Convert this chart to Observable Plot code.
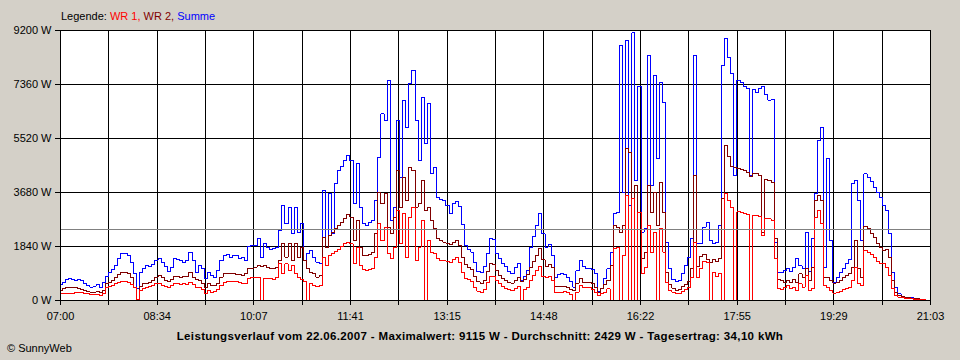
<!DOCTYPE html>
<html>
<head>
<meta charset="utf-8">
<script src="https://cdn.jsdelivr.net/npm/d3@7"></script>
<script src="https://cdn.jsdelivr.net/npm/@observablehq/plot@0.6"></script>
<style>
html, body { margin: 0; padding: 0; background: #d4d0c8; }
#wrap { position: relative; width: 960px; height: 360px; background: #d4d0c8; overflow: hidden;
  font-family: "Liberation Sans", Arial, sans-serif; font-size: 11px; color: #000; }
#chart { position: absolute; left: 0; top: 0; }
#chart svg path, #chart svg line { shape-rendering: crispEdges; }
#legend { position: absolute; left: 61px; top: 10px; white-space: nowrap; }
#title { position: absolute; left: 0; width: 960px; top: 330px; text-align: center; font-weight: bold; font-size: 11.5px; letter-spacing: 0.35px; white-space: nowrap; }
#copy { position: absolute; left: 7px; top: 342px; white-space: nowrap; }
</style>
</head>
<body>
<div id="wrap">
  <div id="chart"></div>
  <div id="legend"></div>
  <div id="title"></div>
  <div id="copy"></div>
</div>
<script>
// ---- data (W), one sample every 3 minutes from 07:00 to 21:03 ----
const startLabel = "07:00";
const stepMinutes = 3;
const xTickLabels = ["07:00","08:34","10:07","11:41","13:15","14:48","16:22","17:55","19:29","21:03"];
const yTicks = [0, 1840, 3680, 5520, 7360, 9200];
const average = 2429;
const seriesNames = ["WR 1", "WR 2", "Summe"];
const seriesColors = ["#ff0000", "#800000", "#0000ff"];
const titleText = "Leistungsverlauf vom 22.06.2007 - Maximalwert: 9115 W - Durchschnitt: 2429 W - Tagesertrag: 34,10 kWh";
const copyText = "© SunnyWeb";

const summe = [
  545, 625, 705, 740, 705, 680, 727, 680, 590, 510,
  455, 490, 535, 455, 625, 820, 965, 1045, 1190, 1420,
  1610, 1610, 1535, 1305, 910, 400, 965, 1080, 1190, 1160,
  1225, 1365, 1420, 1305, 1160, 990, 1135, 1420, 1400, 1365,
  1305, 1365, 1650, 1365, 965, 1190, 1080, 740, 965, 850,
  770, 1020, 1365, 1535, 1570, 1475, 1535, 1535, 1420, 1475,
  1365, 1840, 1875, 1875, 2100, 1475, 1930, 1820, 1725, 1760,
  1795, 2385, 3240, 2610, 3180, 2270, 3180, 2330, 2610, 1365,
  1590, 1705, 1475, 1305, 1250, 3750, 1820, 3635, 2270, 3975,
  4430, 4565, 4770, 4940, 4770, 3295, 4660, 3180, 2610, 2555,
  2670, 2725, 3410, 4885, 6360, 6135, 7500, 2725, 3180, 6135,
  4200, 6815, 5900, 7385, 7840, 6135, 4770, 6930, 5340, 6700,
  4315, 4545, 3520, 3430, 3410, 3240, 2975, 3295, 3385, 3205,
  2600, 1860, 1750, 1650, 1280, 990, 965, 1160, 1610, 2100,
  2070, 1590, 1420, 1270, 1160, 1000, 910, 1135, 1270, 680,
  820, 1020, 1820, 2180, 2555, 2955, 2270, 1820, 1910, 1535,
  770, 885, 910, 885, 795, 660, 455, 1020, 1365, 1160,
  1080, 1080, 1045, 910, 300, 400, 740, 1080, 1650, 2955,
  3010, 8690, 3690, 8860, 3240, 9115, 4100, 7300, 2330, 2440,
  8350, 3920, 7670, 4830, 7440, 6760, 1990, 1080, 715, 650,
  680, 910, 1190, 1475, 2100, 8350, 1930, 1930, 2500, 2650,
  2045, 1930, 1965, 2555, 8000, 8920, 8290, 7725, 4260, 7500,
  7420, 7295, 7235, 4260, 7190, 7100, 7215, 7295, 7010, 6830,
  6850, 1990, 965, 965, 1020, 1100, 990, 1135, 1420, 1190,
  1100, 2330, 1000, 2100, 3640, 5450, 5900, 1135, 4830, 2045,
  625, 795, 965, 1080, 1250, 1385, 3975, 4090, 3410, 2045,
  4315, 4200, 4045, 3860, 3680, 3500, 3240, 3070, 2270, 965,
  455, 230, 135, 100, 90, 90, 80, 57, 34, 23, 11, 0
];

const wr2 = [
  340, 400, 430, 455, 430, 455, 410, 375, 340, 305,
  285, 285, 320, 275, 340, 570, 625, 670, 770, 885,
  955, 965, 910, 795, 455, 25, 475, 570, 590, 625,
  680, 795, 850, 770, 680, 635, 705, 820, 820, 795,
  820, 820, 965, 795, 725, 680, 590, 430, 570, 510,
  520, 590, 795, 910, 930, 910, 930, 885, 885, 850,
  910, 1100, 1100, 1135, 1190, 1160, 1180, 1115, 1080, 1080,
  1115, 1365, 1930, 1475, 1930, 1365, 1930, 1475, 1820, 1365,
  1080, 965, 910, 795, 850, 2160, 1820, 2215, 2330, 2440,
  2555, 2670, 2785, 2930, 2840, 2045, 2725, 1820, 1535, 1535,
  1570, 1650, 2270, 3690, 3295, 3635, 2500, 2270, 2840, 4430,
  3180, 4200, 3410, 4545, 4430, 3180, 3295, 4090, 3070, 3180,
  2725, 2440, 2100, 2045, 1990, 1955, 1910, 1990, 2045, 1875,
  1450, 1210, 1110, 1050, 820, 635, 570, 680, 1000, 1250,
  1225, 1020, 865, 760, 690, 625, 590, 680, 785, 660,
  705, 875, 1115, 1340, 1535, 1760, 1385, 1170, 1215, 1115,
  475, 475, 475, 475, 430, 365, 340, 590, 740, 625,
  625, 625, 590, 455, 285, 400, 535, 680, 1190, 2555,
  2500, 2330, 2555, 5170, 5055, 3465, 3920, 3010, 1420, 1650,
  3920, 3010, 3690, 2555, 4030, 3010, 965, 535, 420, 340,
  375, 475, 535, 650, 1080, 4260, 1170, 1510, 1580, 1400,
  1305, 1400, 1330, 1420, 3465, 5280, 4920, 4570, 4545, 4490,
  4465, 4430, 4375, 4240, 4315, 4315, 4260, 2330, 4125, 4090,
  4030, 2100, 715, 680, 600, 680, 625, 715, 600, 910,
  795, 1080, 680, 1135, 3410, 3580, 3410, 795, 770, 680,
  590, 625, 680, 770, 850, 910, 1135, 2045, 1080, 795,
  2520, 2455, 2270, 2160, 1955, 1820, 1705, 1725, 1475, 680,
  285, 170, 135, 115, 90, 80, 70, 57, 34, 23, 11, 0
];

const wr1 = [
  227, 240, 250, 250, 250, 260, 270, 260, 250, 227,
  205, 195, 205, 170, 227, 430, 490, 520, 570, 615,
  650, 660, 625, 545, 430, 25, 340, 400, 455, 475,
  520, 580, 590, 520, 475, 455, 500, 570, 570, 545,
  570, 545, 625, 535, 455, 430, 375, 250, 340, 285,
  320, 365, 510, 625, 660, 650, 660, 635, 625, 590,
  570, 760, 795, 770, 795, 0, 760, 740, 740, 715,
  795, 1250, 910, 1250, 1020, 1190, 910, 795, 705, 660,
  0, 570, 510, 475, 500, 1475, 1190, 1535, 1610, 1680,
  1750, 1840, 1930, 1990, 1930, 1250, 1820, 1190, 1045, 1020,
  1045, 1080, 1475, 2610, 2045, 2500, 1590, 1420, 1820, 3070,
  1930, 2955, 1475, 2840, 3180, 1365, 1820, 2725, 0, 2045,
  1650, 1590, 1420, 1365, 1365, 1340, 1305, 1400, 1475, 1305,
  965, 755, 700, 640, 455, 320, 275, 365, 625, 830,
  820, 680, 590, 490, 420, 365, 340, 400, 465, 0,
  375, 455, 680, 850, 1020, 1160, 820, 785, 805, 680,
  285, 275, 285, 305, 275, 205, 0, 285, 500, 455,
  455, 455, 385, 285, 170, 230, 285, 400, 0, 1760,
  1820, 0, 1535, 3580, 0, 3465, 0, 3010, 910, 1135,
  2555, 1650, 2330, 0, 2440, 1650, 625, 340, 285, 230,
  250, 320, 375, 455, 795, 1990, 795, 1080, 1330, 1305,
  0, 965, 830, 910, 0, 3635, 3410, 3180, 0, 3030,
  2990, 2955, 2920, 0, 2895, 2895, 2875, 2215, 2805, 2785,
  2725, 1420, 400, 375, 430, 510, 400, 455, 340, 570,
  455, 850, 340, 400, 2840, 3070, 2610, 510, 455, 340,
  250, 270, 320, 365, 400, 455, 680, 1135, 570, 510,
  1705, 1650, 1570, 1475, 1320, 1270, 1250, 1135, 850, 400,
  170, 115, 90, 80, 70, 57, 45, 34, 23, 23, 11, 0
];

// ---- build ----
const toMin = s => { const [h, m] = s.split(":").map(Number); return h * 60 + m; };
const t0 = toMin(startLabel);
const span = toMin(xTickLabels[xTickLabels.length - 1]) - t0; // 843 minutes
const nTicks = (xTickLabels.length - 1) * 2;                      // labelled + intermediate
const xTicks = d3.range(nTicks + 1).map(k => k * span / nTicks);
const xFmt = d => { const k = Math.round(d / (span / nTicks)); return k % 2 === 0 ? xTickLabels[k / 2] : ""; };
const rows = arr => arr.map((v, i) => ({t: i * stepMinutes, v}));

const chart = Plot.plot({
  width: 960,
  height: 325,
  marginLeft: 60,
  marginRight: 30,
  marginTop: 30,
  marginBottom: 25,
  style: {background: "transparent", fontFamily: "'Liberation Sans', Arial, sans-serif", fontSize: "11px", color: "#000", overflow: "visible"},
  x: {domain: [0, span]},
  y: {domain: [0, yTicks[yTicks.length - 1]]},
  marks: [
    Plot.frame({fill: "white", stroke: null}),
    Plot.gridX(xTicks, {stroke: "#000", strokeOpacity: 1}),
    Plot.gridY(yTicks, {stroke: "#000", strokeOpacity: 1}),
    Plot.lineY(rows(summe), {x: "t", y: "v", stroke: seriesColors[2], strokeWidth: 1, curve: "step"}),
    Plot.lineY(rows(wr2), {x: "t", y: "v", stroke: seriesColors[1], strokeWidth: 1, curve: "step"}),
    Plot.lineY(rows(wr1), {x: "t", y: "v", stroke: seriesColors[0], strokeWidth: 1, curve: "step"}),
    Plot.ruleY([average], {stroke: "#808080", strokeWidth: 1}),
    Plot.frame({stroke: "#000", strokeWidth: 1}),
    Plot.axisY(yTicks, {anchor: "left", tickSize: 5, tickPadding: 4, tickFormat: d => d + " W", label: null}),
    Plot.axisX(xTicks, {anchor: "bottom", tickSize: 5, tickPadding: 7, tickFormat: xFmt, label: null})
  ]
});
document.getElementById("chart").appendChild(chart);

const legend = document.getElementById("legend");
legend.appendChild(document.createTextNode("Legende: "));
seriesNames.forEach((n, i) => {
  const s = document.createElement("span");
  s.style.color = seriesColors[i];
  s.textContent = n + (i < seriesNames.length - 1 ? ", " : "");
  legend.appendChild(s);
});
document.getElementById("title").textContent = titleText;
document.getElementById("copy").textContent = copyText;
</script>
</body>
</html>
